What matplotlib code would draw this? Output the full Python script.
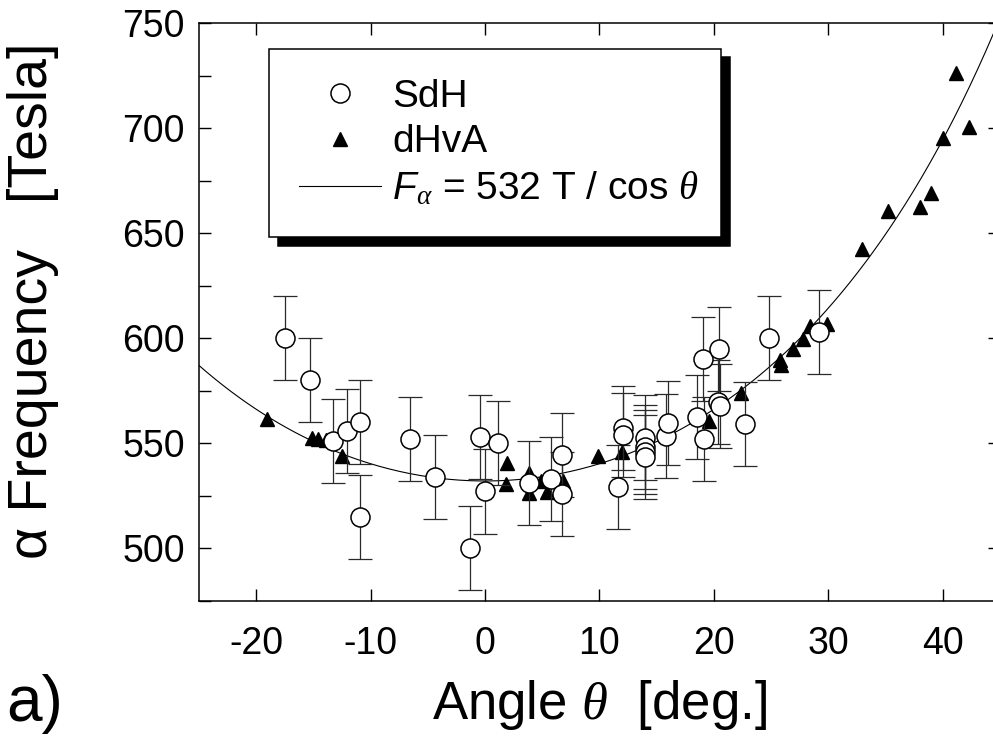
import numpy as np
import matplotlib
matplotlib.use("Agg")
import matplotlib.pyplot as plt
from matplotlib.ticker import MultipleLocator

plt.rcParams['font.family'] = ['Liberation Sans', 'DejaVu Sans']
plt.rcParams['axes.unicode_minus'] = False
plt.rcParams['mathtext.fontset'] = 'custom'
plt.rcParams['mathtext.rm'] = 'Liberation Sans'
plt.rcParams['mathtext.it'] = 'Liberation Serif:italic'
plt.rcParams['mathtext.sf'] = 'Liberation Sans:italic'

# SdH points (angle in deg, frequency in T), error +-20 T
sdh_angle = [-17.5, -15.3, -13.25, -12.05, -10.9, -10.9, -6.6, -4.4, -1.3, -0.4,
             0.0, 1.15, 3.8, 5.8, 6.7, 6.7, 11.6, 12.05, 12.05, 14.0,
             14.0, 14.0, 14.0, 15.8, 16.0, 18.5, 19.05, 19.1, 20.35, 20.5,
             20.45, 22.7, 24.8, 29.2]
sdh_freq = [600, 580, 551, 556, 560, 515, 552, 534, 500, 553,
            527, 550, 531, 533, 544.6, 526, 529, 557, 554, 552.7,
            548.3, 545.8, 543.6, 553.2, 559.6, 562.6, 590, 552, 569.5, 567.8,
            595, 559, 600, 603]
sdh_err = [20] * len(sdh_angle)

# dHvA points
dhva_angle = [-19.1, -15.1, -14.6, -13.9, -12.5, 1.9, 1.8, 3.8, 3.8, 4.9,
              5.4, 6.8, 9.9, 12.0, 19.6, 22.4, 25.8, 25.9, 26.9, 27.8,
              28.4, 29.9, 32.9, 35.2, 38.0, 38.95, 40.05, 41.2, 42.3]
dhva_freq = [561.5, 552.4, 552.1, 551.6, 543.7, 540.5, 530.7, 535.8, 526.3, 531.8,
             526.7, 531.8, 543.7, 545.8, 560.5, 573.8, 589.7, 587.3, 594.6, 599.6,
             605.6, 606.9, 642.5, 660.6, 662.6, 669.3, 695.4, 726.4, 700.4]

# fit F = F0 / cos(theta)
F0 = 532
theta = np.linspace(-25, 45, 400)
fit = F0 / np.cos(np.radians(theta))

fig = plt.figure(figsize=(9.93, 7.36), dpi=100)
ax = fig.add_axes([0.2004, 0.1838, 0.8066, 0.7849])

ax.plot(theta, fit, color='black', lw=0.8, zorder=2)
tri, = ax.plot(dhva_angle, dhva_freq, '^', color='black', ms=9.5, zorder=3)
ax.errorbar(sdh_angle, sdh_freq, yerr=sdh_err, fmt='none', ecolor='#2a2a2a',
            elinewidth=0.9, capsize=8.5, capthick=0.9, zorder=4)
circ, = ax.plot(sdh_angle, sdh_freq, 'o', mfc='white', mec='black', mew=1.1,
                ms=13.7, zorder=5)
line = matplotlib.lines.Line2D([], [], color='black', lw=0.8)

ax.set_xlim(-25, 45)
ax.set_ylim(475, 750)
ax.xaxis.set_major_locator(MultipleLocator(10))
ax.yaxis.set_major_locator(MultipleLocator(50))
ax.yaxis.set_minor_locator(MultipleLocator(25))
ax.tick_params(which='both', direction='in', length=8.6, width=1,
               top=True, right=True, labelsize=27)
ax.tick_params(which='minor', right=False)
ax.tick_params(axis='x', pad=18)
ax.tick_params(axis='y', pad=10)
for s in ax.spines.values():
    s.set_linewidth(1.1)

ax.set_xlabel(r'Angle $\theta$  [deg.]', fontsize=38, labelpad=12)
ax.set_ylabel('\u03b1 Frequency   [Tesla]', fontsize=40)
ax.yaxis.set_label_coords(-0.175, 0.52)

leg = ax.legend([circ, tri, line],
                ['SdH', 'dHvA', r'$\mathsf{F}_{\alpha}$ = 532 T / cos $\theta$'],
                loc='upper left', bbox_to_anchor=(0.0874, 0.628, 0.5645, 0.327),
                mode='expand', borderaxespad=0, fancybox=False, framealpha=1,
                edgecolor='black', fontsize=28, handlelength=2.13,
                handletextpad=0.28, borderpad=0.76, labelspacing=0.25,
                shadow={'ox': 6.5, 'oy': -6, 'color': 'black', 'alpha': 1})
leg.get_frame().set_linewidth(1.1)

fig.text(0.006, 0.02, 'a)', fontsize=46, va='baseline')

fig.savefig('out.png', dpi=100)
